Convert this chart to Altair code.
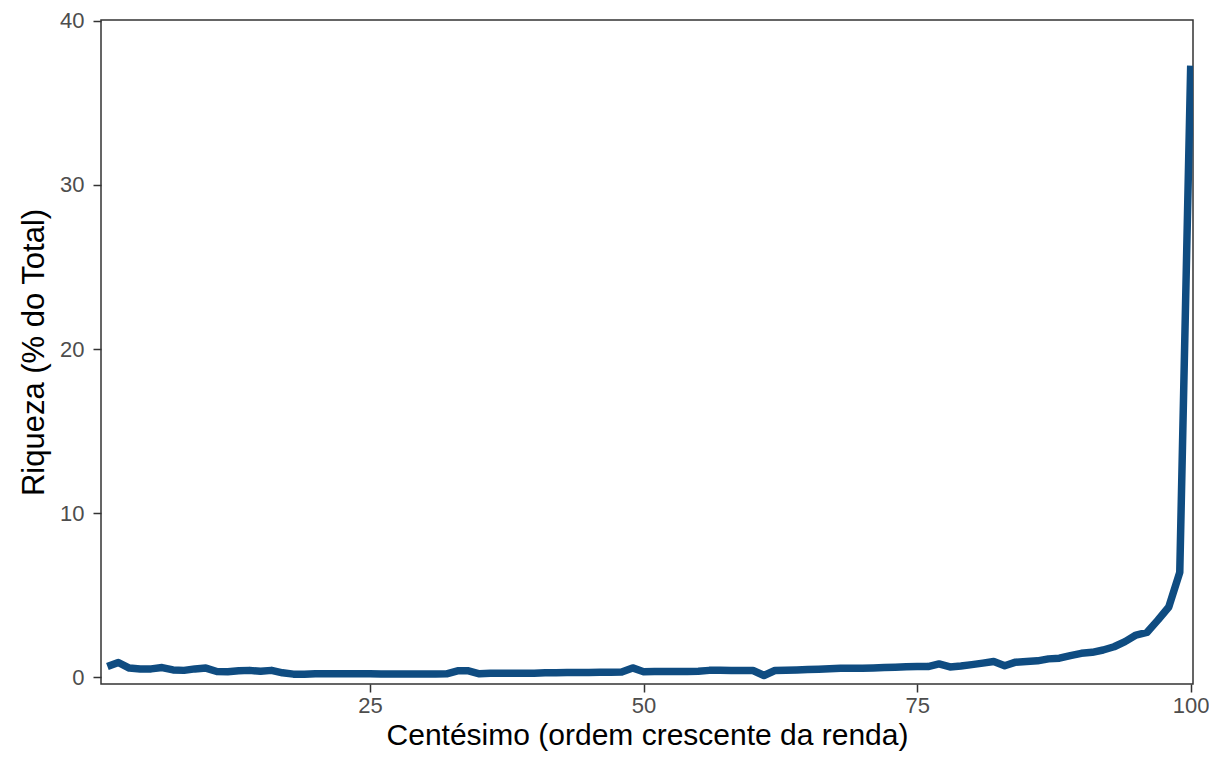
import altair as alt
import pandas as pd

centesimo = list(range(1, 101))
riqueza = [
    0.66, 0.91, 0.57, 0.52, 0.52, 0.60, 0.46, 0.43, 0.52, 0.57,
    0.36, 0.35, 0.40, 0.43, 0.37, 0.43, 0.28, 0.20, 0.20, 0.23,
    0.22, 0.22, 0.22, 0.22, 0.22, 0.21, 0.21, 0.21, 0.21, 0.21,
    0.21, 0.22, 0.40, 0.40, 0.22, 0.25, 0.25, 0.25, 0.25, 0.26,
    0.28, 0.29, 0.30, 0.30, 0.30, 0.31, 0.32, 0.33, 0.58, 0.35,
    0.36, 0.36, 0.36, 0.36, 0.38, 0.43, 0.43, 0.42, 0.42, 0.42,
    0.12, 0.42, 0.44, 0.46, 0.48, 0.50, 0.53, 0.56, 0.56, 0.56,
    0.58, 0.60, 0.62, 0.65, 0.66, 0.66, 0.82, 0.64, 0.70, 0.78,
    0.87, 0.97, 0.71, 0.93, 0.97, 1.01, 1.13, 1.17, 1.33, 1.47,
    1.53, 1.67, 1.87, 2.18, 2.58, 2.74, 3.49, 4.29, 6.40, 37.26,
]
x_ticks = [25, 50, 75, 100]
y_ticks = [0, 10, 20, 30, 40]

df = pd.DataFrame({"centesimo": centesimo, "riqueza": riqueza})

line = alt.Chart(df).mark_line(
    color="#0F4C81", strokeWidth=7.5, strokeCap="butt", strokeJoin="round", clip=True
).encode(
    x=alt.X(
        "centesimo:Q",
        scale=alt.Scale(domain=[0.415, 100.21], nice=False, zero=False),
        axis=alt.Axis(
            values=x_ticks,
            title="Centésimo (ordem crescente da renda)",
            grid=False,
            domain=False,
            tickColor="#333333",
            tickWidth=1.5,
            tickSize=8,
            labelColor="#4D4D4D",
            labelFont="Liberation Sans",
            labelFontSize=22,
            labelPadding=3,
            labelFlush=False,
            titleFont="Liberation Sans",
            titleFontSize=30,
            titleFontWeight="normal",
            titleColor="#000000",
            titleBaseline="alphabetic",
            titleY=60,
        ),
    ),
    y=alt.Y(
        "riqueza:Q",
        scale=alt.Scale(domain=[-0.4, 40.04], nice=False, zero=False),
        axis=alt.Axis(
            values=y_ticks,
            title="Riqueza (% do Total)",
            grid=False,
            domain=False,
            tickColor="#333333",
            tickWidth=1.5,
            tickSize=8,
            labelColor="#4D4D4D",
            labelFont="Liberation Sans",
            labelFontSize=22,
            labelPadding=9,
            labelFlush=False,
            titleFont="Liberation Sans",
            titleFontSize=31,
            titleFontWeight="normal",
            titleColor="#000000",
            titleBaseline="alphabetic",
            titleX=-58,
        ),
    ),
)

chart = line.properties(
    width=1092,
    height=664,
    autosize=alt.AutoSizeParams(type="none"),
    padding={"left": 93, "top": 12, "right": 16, "bottom": 67},
).configure(
    background="white",
).configure_view(
    stroke="#333333", strokeWidth=1.5, fill="white"
)

chart.save("out.html", embed_options={"renderer": "svg", "actions": False})
